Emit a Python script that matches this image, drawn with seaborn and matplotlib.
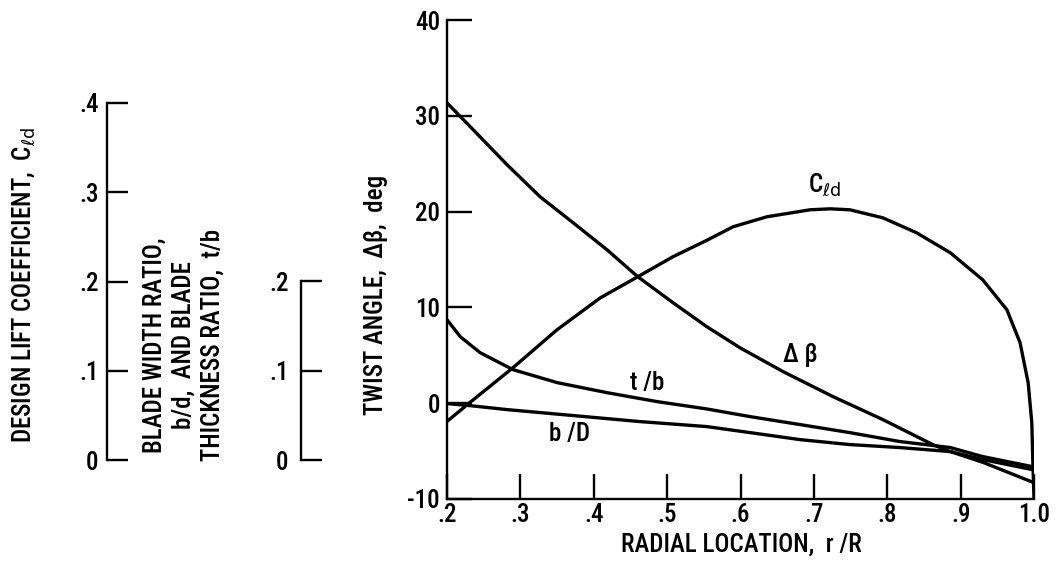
import matplotlib
matplotlib.use("Agg")
import matplotlib.pyplot as plt
import seaborn as sns
import pandas as pd

# ---- data ----
r_beta = [0.200, 0.235, 0.282, 0.327, 0.372, 0.418, 0.460, 0.508, 0.554, 0.599, 0.658, 0.726, 0.794, 0.862, 0.886, 0.931, 1.000]
twist_beta = [31.35, 28.6, 24.88, 21.54, 18.83, 16.02, 13.20, 10.49, 7.99, 5.80, 3.30, 0.69, -1.71, -4.32, -5.05, -6.19, -8.3]

r_cld = [0.200, 0.231, 0.290, 0.350, 0.409, 0.460, 0.508, 0.554, 0.590, 0.636, 0.695, 0.722, 0.749, 0.794, 0.840, 0.886, 0.930, 0.963, 0.981, 0.992, 0.997, 0.9986, 1.000]
twist_cld = [-1.9, 0.06, 3.71, 7.67, 11.0, 13.2, 15.29, 17.0, 18.42, 19.46, 20.19, 20.29, 20.19, 19.35, 17.79, 15.70, 12.89, 9.76, 6.32, 2.15, -2.02, -6.6, -9.84]

r_tb = [0.200, 0.218, 0.245, 0.290, 0.350, 0.418, 0.486, 0.554, 0.613, 0.681, 0.749, 0.817, 0.886, 0.930, 0.997]
twist_tb = [8.72, 6.95, 5.28, 3.50, 2.15, 1.10, 0.17, -0.60, -1.40, -2.23, -3.07, -4.00, -4.63, -5.57, -6.61]

r_bd = [0.200, 0.231, 0.282, 0.372, 0.463, 0.554, 0.613, 0.681, 0.749, 0.817, 0.886, 0.930, 0.997]
twist_bd = [-0.04, -0.25, -0.67, -1.29, -1.92, -2.44, -3.07, -3.80, -4.32, -4.63, -5.05, -5.88, -6.92]

x_ticks = [0.2, 0.3, 0.4, 0.5, 0.6, 0.7, 0.8, 0.9, 1.0]
x_ticklabels = [".2", ".3", ".4", ".5", ".6", ".7", ".8", ".9", "1.0"]
twist_ticks = [-10, 0, 10, 20, 30, 40]
twist_ticklabels = ["-10", "0", "10", "20", "30", "40"]
cld_ticks = [0, 0.1, 0.2, 0.3, 0.4]
cld_ticklabels = ["0", ".1", ".2", ".3", ".4"]
ratio_ticks = [0, 0.1, 0.2]
ratio_ticklabels = ["0", ".1", ".2"]

# ---- style ----
sns.set_theme(style="ticks")
plt.rcParams["font.family"] = ["Roboto Condensed", "DejaVu Sans"]
plt.rcParams["font.weight"] = "medium"
plt.rcParams["mathtext.fontset"] = "dejavusans"
for k in ["text.color", "axes.labelcolor", "xtick.color", "ytick.color", "axes.edgecolor"]:
    plt.rcParams[k] = "black"

FS = 18
LW = 2.4
SPW = 1.7

W, H = 1061, 568
fig = plt.figure(figsize=(W / 100, H / 100), dpi=100)
fig.patch.set_facecolor("white")

def fx(px):
    return px / W

def fy(py):
    return 1 - py / H

# main axes
ax = fig.add_axes([fx(447), fy(499), fx(1034) - fx(447), fy(20) - fy(499)])
frames = []
for name, xs, ys in [("dbeta", r_beta, twist_beta), ("cld", r_cld, twist_cld),
                     ("tb", r_tb, twist_tb), ("bd", r_bd, twist_bd)]:
    frames.append(pd.DataFrame({"r": xs, "v": ys, "curve": name}))
df = pd.concat(frames, ignore_index=True)
for name, sub in df.groupby("curve", sort=False):
    sns.lineplot(data=sub, x="r", y="v", ax=ax, color="black", linewidth=LW,
                 sort=False, estimator=None, legend=False)

ax.set_xlim(0.2, 1.0)
ax.set_ylim(-10, 40)
ax.set_xticks(x_ticks)
ax.set_xticklabels(x_ticklabels)
ax.set_yticks(twist_ticks)
ax.set_yticklabels(twist_ticklabels)
ax.set_xlabel("")
ax.set_ylabel("")
for s in ["top", "right"]:
    ax.spines[s].set_visible(False)
for s in ["left", "bottom"]:
    ax.spines[s].set_linewidth(SPW)
ax.tick_params(axis="both", direction="in", length=18, width=SPW, labelsize=FS, colors="black")
ax.tick_params(axis="x", pad=3)
ax.tick_params(axis="y", pad=5)
ax.patch.set_alpha(0)

# curve labels
ax.text(0.715, 22.8, r"C$_{\ell \mathrm{d}}$", fontsize=FS, ha="center", va="center")
ax.text(0.681, 5.07, "Δ β", fontsize=FS, ha="center", va="center")
ax.text(0.4726, 2.16, "t /b", fontsize=FS, ha="center", va="center")
ax.text(0.3676, -3.17, "b /D", fontsize=FS, ha="center", va="center")

# secondary scales
def scale_axis(px, py_top, ylim, ticks, labels, pad):
    a = fig.add_axes([fx(px), fy(460), 0.0005, fy(py_top) - fy(460)])
    a.set_ylim(*ylim)
    a.set_xticks([])
    a.set_yticks(ticks)
    a.set_yticklabels(labels)
    for s in ["top", "right", "bottom"]:
        a.spines[s].set_visible(False)
    a.spines["left"].set_linewidth(SPW)
    a.tick_params(axis="y", direction="in", length=15, width=SPW, labelsize=FS, pad=pad, colors="black")
    a.patch.set_alpha(0)
    return a

scale_axis(107, 103, (0, 0.4), cld_ticks, cld_ticklabels, 6)
scale_axis(301, 281, (0, 0.2), ratio_ticks, ratio_ticklabels, 9)

# axis titles
fig.text(fx(24), fy(285), r"DESIGN LIFT COEFFICIENT,  C$_{\ell \mathrm{d}}$", rotation=90,
         fontsize=FS, ha="center", va="center")
fig.text(fx(184), fy(345), "BLADE WIDTH RATIO,\nb/d,  AND BLADE\nTHICKNESS RATIO,  t/b", rotation=90,
         fontsize=FS, ha="center", va="center", multialignment="center", linespacing=1.25)
fig.text(fx(376), fy(295), "TWIST ANGLE,  Δβ,  deg", rotation=90,
         fontsize=FS, ha="center", va="center")
fig.text(fx(741), fy(545), "RADIAL LOCATION,  r /R", fontsize=FS, ha="center", va="center")

fig.savefig("out.png", dpi=100, facecolor="white")
